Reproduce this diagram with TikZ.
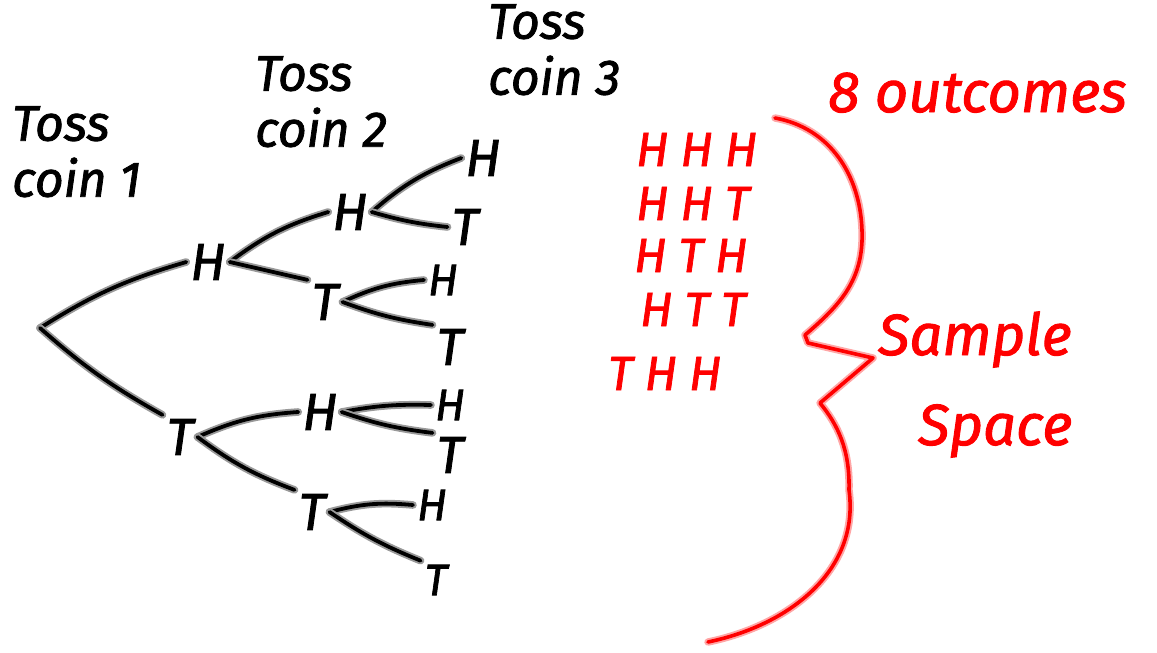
\documentclass[tikz,border=0pt]{standalone}
\usepackage{fontspec}
\setmainfont{Fira Sans}
\newcommand\hw{\itshape\addfontfeatures{FakeBold=1.6}}
\tikzset{
  ink/.style={draw=black, line width=3.8pt, line cap=round, line join=round,
              preaction={draw=black!40, line width=7.6pt, line cap=round, line join=round}},
  rink/.style={draw=red, line width=3.6pt, line cap=round, line join=round,
              preaction={draw=red!35, line width=7.4pt, line cap=round, line join=round}},
  lt/.style={font=\fontsize{52}{52}\selectfont\hw, inner sep=4pt, text=black},
  ls/.style={font=\fontsize{44}{44}\selectfont\hw, inner sep=4pt, text=black},
  hd/.style={font=\fontsize{50}{56}\selectfont\hw, align=left, inner sep=0pt, text=black},
  outc/.style={font=\fontsize{48}{48}\selectfont\hw\addfontfeatures{LetterSpace=25}, inner sep=0pt, text=red},
  bigred/.style={font=\fontsize{58}{80}\selectfont\hw, align=left, inner sep=0pt, text=red}
}
\begin{document}
\begin{tikzpicture}[x=1pt,y=-1pt]
\useasboundingbox (0,0) rectangle (1157,653);
% headings
\node[hd, anchor=north west] (h1) at (12,106) {Toss\\coin 1};
\node[hd, anchor=north west] (h2) at (255,56) {Toss\\coin 2};
\node[hd, anchor=north west] (h3) at (488,4) {Toss\\coin 3};
% tree
\coordinate (root) at (40,328);
\node[lt] (H1) at (208,262) {H};
\node[lt] (T1) at (180,437) {T};
\node[lt] (HH) at (350,212) {H};
\node[lt] (HT) at (325,302) {T};
\node[lt] (TH) at (320,412) {H};
\node[lt] (TT) at (312,512) {T};
\node[lt] (HHH) at (483,158) {H};
\node[lt] (HHT) at (465,227) {T};
\node[ls] (HTH) at (443,280) {H};
\node[lt] (HTT) at (450,347) {T};
\node[ls] (THH) at (450,405) {H};
\node[lt] (THT) at (450,455) {T};
\node[ls] (TTH) at (432,505) {H};
\node[ls] (TTT) at (436,580) {T};
\draw[ink] (root) to[bend left=8] (H1.west);
\draw[ink] (root) to[bend right=6] (T1.north west);
\draw[ink] (H1.east) to[bend left=10] (HH.west);
\draw[ink] (H1.east) -- (HT.north west);
\draw[ink] (HH.east) to[bend left=10] (HHH.west);
\draw[ink] (HH.east) to[bend right=5] (HHT.west);
\draw[ink] (HT.east) to[bend left=10] (HTH.west);
\draw[ink] (HT.east) to[bend right=6] (HTT.north west);
\draw[ink] (T1.east) to[bend left=10] (TH.west);
\draw[ink] (T1.east) to[bend right=8] (TT.north west);
\draw[ink] (TH.east) to[bend left=6] (THH.west);
\draw[ink] (TH.east) to[bend right=6] (THT.north west);
\draw[ink] (TT.east) to[bend left=10] (TTH.west);
\draw[ink] (TT.east) to[bend right=6] (TTT.north west);
% outcomes
\node[outc, anchor=base west] (o1) at (636,166) {HHH};
\node[outc, anchor=base west] (o2) at (636,220) {HHT};
\node[outc, anchor=base west] (o3) at (634,272) {HTH};
\node[outc, anchor=base west] (o4) at (640,326) {HTT};
\node[outc, anchor=base west] (o5) at (608,390) {THH};
\node[bigred, anchor=base west] (n8) at (828,112) {8 outcomes};
\node[bigred, anchor=base west] (ss) at (878,355) {Sample};
\node[bigred, anchor=base west] (sp) at (918,445) {Space};
% brace
\coordinate (bt) at (873,358);
\draw[rink] (775,118) .. controls (830,128) and (860,175) .. (862,230)
  .. controls (864,280) and (840,305) .. (805,335)
  -- (808,343) -- (bt) -- (820,403)
  .. controls (838,425) and (850,450) .. (849,490)
  .. controls (860,570) and (790,625) .. (708,642);
\end{tikzpicture}
\end{document}
